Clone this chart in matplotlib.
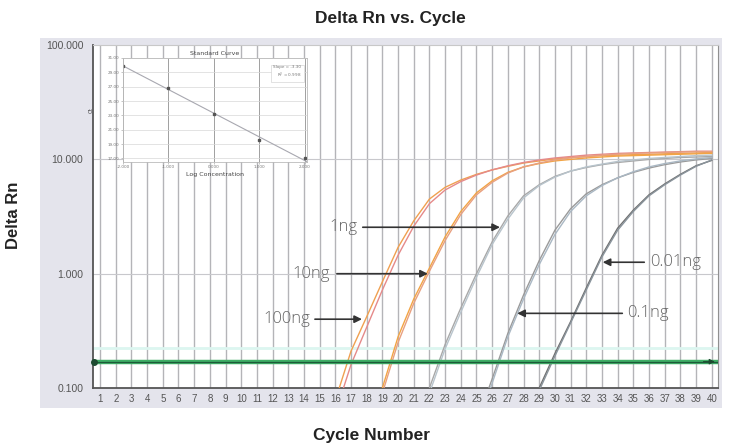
import numpy as np
import matplotlib
matplotlib.use('Agg')
import matplotlib.pyplot as plt
from matplotlib.patches import Rectangle

# amplification curves, Delta Rn per cycle (two replicates per dilution)
cyc_100a = list(range(16, 41))
rn_100a = [0.078, 0.21, 0.42, 0.85, 1.7, 2.9, 4.5, 5.7, 6.6, 7.4, 8.1, 8.7, 9.3,
           9.7, 10.1, 10.4, 10.6, 10.8, 10.9, 11.0, 11.1, 11.2, 11.3, 11.4, 11.5]
cyc_100b = list(range(16, 41))
rn_100b = [0.06, 0.16, 0.34, 0.72, 1.45, 2.6, 4.1, 5.4, 6.4, 7.3, 8.1, 8.8, 9.4,
           9.9, 10.3, 10.6, 10.9, 11.1, 11.3, 11.4, 11.5, 11.6, 11.7, 11.8, 11.8]
cyc_10a = list(range(18, 41))
rn_10a = [0.04, 0.1, 0.28, 0.6, 1.12, 2.1, 3.5, 5.1, 6.5, 7.7, 8.6, 9.2, 9.7,
          10.0, 10.3, 10.5, 10.7, 10.8, 10.9, 11.0, 11.1, 11.2, 11.3]
cyc_10b = list(range(18, 41))
rn_10b = [0.035, 0.09, 0.25, 0.55, 1.05, 1.95, 3.3, 4.9, 6.3, 7.6, 8.6, 9.3, 9.9,
          10.3, 10.6, 10.9, 11.1, 11.3, 11.4, 11.5, 11.6, 11.7, 11.7]
cyc_1a = list(range(21, 41))
rn_1a = [0.045, 0.1, 0.24, 0.5, 1.0, 1.9, 3.2, 4.8, 6.0, 7.1, 7.9, 8.5, 9.0,
         9.4, 9.7, 10.0, 10.2, 10.4, 10.5, 10.6]
cyc_1b = list(range(21, 41))
rn_1b = [0.04, 0.09, 0.22, 0.46, 0.93, 1.8, 3.0, 4.6, 5.9, 7.0, 7.9, 8.6, 9.1,
         9.6, 9.9, 10.2, 10.4, 10.6, 10.8, 10.9]
cyc_01a = list(range(25, 41))
rn_01a = [0.05, 0.12, 0.3, 0.65, 1.3, 2.4, 3.7, 5.0, 6.0, 6.9, 7.7, 8.4, 9.0,
          9.5, 9.9, 10.2]
cyc_01b = list(range(25, 41))
rn_01b = [0.045, 0.11, 0.28, 0.6, 1.2, 2.2, 3.5, 4.8, 5.9, 6.9, 7.8, 8.6, 9.2,
          9.7, 10.1, 10.4]
cyc_001a = list(range(28, 41))
rn_001a = [0.045, 0.1, 0.2, 0.38, 0.75, 1.45, 2.5, 3.6, 4.9, 6.1, 7.4, 8.8, 9.8]
cyc_001b = list(range(28, 41))
rn_001b = [0.042, 0.095, 0.19, 0.37, 0.72, 1.4, 2.4, 3.5, 4.8, 6.0, 7.3, 8.7, 9.9]

threshold = 0.17
baseline_band = 0.224

cycles = list(range(1, 41))
y_ticks = [0.1, 1, 10, 100]
y_ticklabels = ['0.100', '1.000', '10.000', '100.000']

# standard curve inset
log_conc = [-2, -1, 0, 1, 2]
ct_vals = [29.9, 26.8, 23.2, 19.6, 17.0]
inset_xticks = [-2, -1, 0, 1, 2]
inset_yticks = [17, 19, 21, 23, 25, 27, 29, 31]

# labels: text, text anchor (cycle, rn), side, arrow tail, arrow tip (cycle, rn)
labels = ['1ng', '10ng', '100ng', '0.1ng', '0.01ng']
label_xy = [(17.4, 2.55), (15.65, 1.0), (14.4, 0.40), (34.6, 0.45), (36.1, 1.26)]
label_side = ['right', 'right', 'right', 'left', 'left']
arrow_tail = [17.75, 16.1, 14.7, 34.3, 35.7]
arrow_tip = [26.5, 21.9, 17.7, 27.6, 33.05]

narrow = ['Liberation Sans Narrow', 'Liberation Sans', 'DejaVu Sans']

fig = plt.figure(figsize=(7.33, 4.47), dpi=100)
fig.patches.append(Rectangle((0.0546, 0.087), 0.93, 0.828, transform=fig.transFigure,
                             facecolor='#e4e4ec', edgecolor='none', zorder=-5))

ax = fig.add_axes([0.1269, 0.132, 0.8526, 0.767])
ax.set_zorder(2)
ax.set_facecolor('white')
ax.set_yscale('log')
ax.set_ylim(0.1, 100)
ax.set_xlim(0.55, 40.4)

for c in cycles:
    ax.axvline(c, color='#b4b4b8', lw=1.0, zorder=1)
for v in [1, 10]:
    ax.axhline(v, color='#c8c8cc', lw=0.8, zorder=1)

ax.axhline(baseline_band, color='#dcf6f0', lw=2.0, zorder=2)

series = [
    (cyc_100a, rn_100a, '#f0a050'), (cyc_100b, rn_100b, '#e58a8a'),
    (cyc_10a, rn_10a, '#f2a444'), (cyc_10b, rn_10b, '#e8a080'),
    (cyc_1a, rn_1a, '#a8a8a8'), (cyc_1b, rn_1b, '#b8c4cc'),
    (cyc_01a, rn_01a, '#9a9a9a'), (cyc_01b, rn_01b, '#aab8c4'),
    (cyc_001a, rn_001a, '#707070'), (cyc_001b, rn_001b, '#8a949c'),
]
for cx, ry, col in series:
    ax.plot(cx, ry, color=col, lw=1.0, zorder=3)

# threshold line
ax.axhline(threshold, color='#3fae66', lw=3.2, zorder=4)
ax.axhline(threshold, color='#1d5a38', lw=0.9, zorder=5)
ax.plot([0.62], [threshold], 'o', color='#1d4a30', ms=4, zorder=6, clip_on=False)
ax.annotate('', xy=(40.38, threshold), xytext=(39.3, threshold),
            arrowprops=dict(arrowstyle='-|>', color='#1d4a30', lw=0.8,
                            mutation_scale=8), zorder=6)

for txt, (tx, ty), side, tail, tip in zip(labels, label_xy, label_side, arrow_tail, arrow_tip):
    ax.text(tx, ty, txt, fontsize=12, color='#666666', ha=side, va='center',
            family=['Open Sans', 'DejaVu Sans'], fontweight='light', zorder=7)
    ax.annotate('', xy=(tip, ty), xytext=(tail, ty),
                arrowprops=dict(arrowstyle='-|>', color='#333333', lw=1.2,
                                mutation_scale=11, shrinkA=0, shrinkB=0), zorder=7)

ax.set_xticks(cycles)
ax.set_xticklabels([str(c) for c in cycles], fontsize=7, color='#555555', family=narrow)
ax.set_yticks(y_ticks)
ax.set_yticklabels(y_ticklabels, fontsize=7.5, color='#555555', family=narrow)
ax.yaxis.set_minor_locator(matplotlib.ticker.NullLocator())
ax.tick_params(axis='x', length=0, pad=4)
ax.tick_params(axis='y', length=0, pad=7)
ax.spines['left'].set_color('#555555')
ax.spines['bottom'].set_color('#555555')
ax.spines['left'].set_linewidth(1.3)
ax.spines['bottom'].set_linewidth(1.3)
ax.spines['right'].set_color('#909090')
ax.spines['top'].set_color('#c8c8c8')

# inset standard curve
ins = fig.add_axes([0.1678, 0.6376, 0.251, 0.2327])
ins.set_zorder(3)
ins.set_facecolor('white')
ins.set_xlim(-2, 2.05)
ins.set_ylim(16.5, 31)
slope, icpt = np.polyfit(log_conc, ct_vals, 1)
xx = np.array([-2, 2.05])
ins.plot(xx, slope * xx + icpt, color='#a8a8b0', lw=0.8)
ins.plot(log_conc, ct_vals, 's', color='#555555', ms=1.8)
ins.set_xticks(inset_xticks)
ins.set_xticklabels(['%.3f' % v for v in inset_xticks], fontsize=3, color='#777777')
ins.set_yticks(inset_yticks)
ins.set_yticklabels(['%.2f' % v for v in inset_yticks], fontsize=3, color='#777777')
ins.tick_params(length=1.5, width=0.4, pad=1, colors='#999999', labelcolor='#777777')
ins.grid(axis='x', color='#909090', lw=0.6)
ins.grid(axis='y', color='#d8d8d8', lw=0.5)
for s in ins.spines.values():
    s.set_color('#bbbbbb')
    s.set_linewidth(0.6)
ins.set_title('Standard Curve', fontsize=4.5, color='#444444', pad=2)
ins.set_xlabel('Log Concentration', fontsize=4.5, color='#444444', labelpad=2)
ins.set_ylabel('Ct', fontsize=4, color='#444444', labelpad=10)
ins.text(0.97, 0.93, 'Slope = %.2f\nR$^2$ = 0.998' % slope, transform=ins.transAxes,
         fontsize=3, color='#777777', ha='right', va='top',
         bbox=dict(facecolor='white', edgecolor='#cccccc', lw=0.4, pad=1.5))

fig.text(0.532, 0.958, 'Delta Rn vs. Cycle', fontsize=12.5, fontweight='bold',
         ha='center', va='center', color='#222222', family=narrow)
fig.text(0.507, 0.025, 'Cycle Number', fontsize=12.5, fontweight='bold',
         ha='center', va='center', color='#222222', family=narrow)
fig.text(0.018, 0.519, 'Delta Rn', fontsize=12, fontweight='bold', rotation=90,
         ha='center', va='center', color='#222222', family=narrow)

fig.savefig('out.png', dpi=100)
